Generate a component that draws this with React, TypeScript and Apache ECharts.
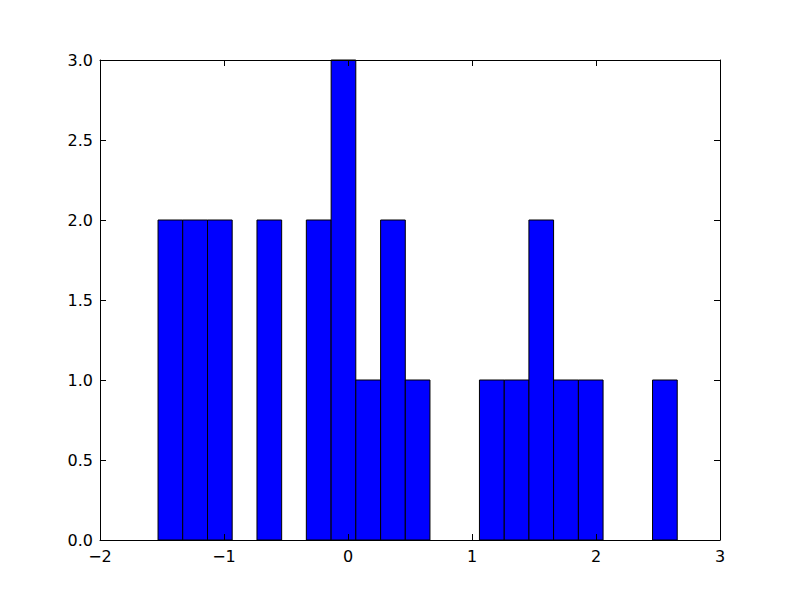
import React, { useEffect, useRef } from "react";
import * as echarts from "echarts";

// Histogram bins: left edge, right edge, count
const binLeft = [-1.532, -1.333, -1.133, -0.934, -0.734, -0.535, -0.336, -0.136, 0.063, 0.263, 0.462, 0.661, 0.861, 1.06, 1.26, 1.459, 1.658, 1.858, 2.057, 2.257, 2.456];
const binRight = [-1.333, -1.133, -0.934, -0.734, -0.535, -0.336, -0.136, 0.063, 0.263, 0.462, 0.661, 0.861, 1.06, 1.26, 1.459, 1.658, 1.858, 2.057, 2.257, 2.456, 2.655];
const counts = [2, 2, 2, 0, 2, 0, 2, 3, 1, 2, 1, 0, 0, 1, 1, 2, 1, 1, 0, 0, 1];

const xTicks = { min: -2, max: 3, interval: 1 };
const yTicks = { min: 0, max: 3, interval: 0.5 };

export default function App() {
  const ref = useRef<HTMLDivElement>(null);
  useEffect(() => {
    if (!ref.current) return;
    const chart = echarts.init(ref.current, undefined, { renderer: "svg" });
    const data = counts.map((c, i) => [binLeft[i], binRight[i], c]);
    const font = { fontFamily: "DejaVu Sans", fontSize: 16, color: "#000" };
    const line = { show: true, lineStyle: { color: "#000", width: 1 } };
    const tick = { show: true, inside: true, length: 6, lineStyle: { color: "#000", width: 1 } };
    chart.setOption({
      animation: false,
      backgroundColor: "#fff",
      grid: { left: 100, right: 80, top: 60, bottom: 60, containLabel: false },
      xAxis: [
        {
          type: "value", ...xTicks, position: "bottom", z: 5,
          axisLine: { ...line, onZero: false }, axisTick: tick, splitLine: { show: false },
          axisLabel: { ...font, margin: 8, formatter: (v: number) => String(v).replace("-", "\u2212") },
        },
        {
          type: "value", ...xTicks, position: "top", z: 5,
          axisLine: { ...line, onZero: false }, axisTick: tick, splitLine: { show: false },
          axisLabel: { show: false },
        },
      ],
      yAxis: [
        {
          type: "value", ...yTicks, position: "left", z: 5,
          axisLine: { ...line, onZero: false }, axisTick: tick, splitLine: { show: false },
          axisLabel: { ...font, margin: 7, formatter: (v: number) => v.toFixed(1) },
        },
        {
          type: "value", ...yTicks, position: "right", z: 5,
          axisLine: { ...line, onZero: false }, axisTick: tick, splitLine: { show: false },
          axisLabel: { show: false },
        },
      ],
      series: [
        {
          type: "custom",
          xAxisIndex: 0,
          yAxisIndex: 0,
          data,
          z: 1,
          renderItem: (params: any, api: any) => {
            const x0 = api.value(0);
            const x1 = api.value(1);
            const c = api.value(2);
            if (!c) return null;
            const p0 = api.coord([x0, c]);
            const p1 = api.coord([x1, 0]);
            return {
              type: "rect",
              shape: { x: p0[0], y: p0[1], width: p1[0] - p0[0], height: p1[1] - p0[1] },
              style: { fill: "#0000ff", stroke: "#000", lineWidth: 1 },
            };
          },
        },
      ],
    });
    return () => chart.dispose();
  }, []);
  return <div ref={ref} style={{ position: "fixed", left: 0, top: 0, width: 800, height: 600 }} />;
}
